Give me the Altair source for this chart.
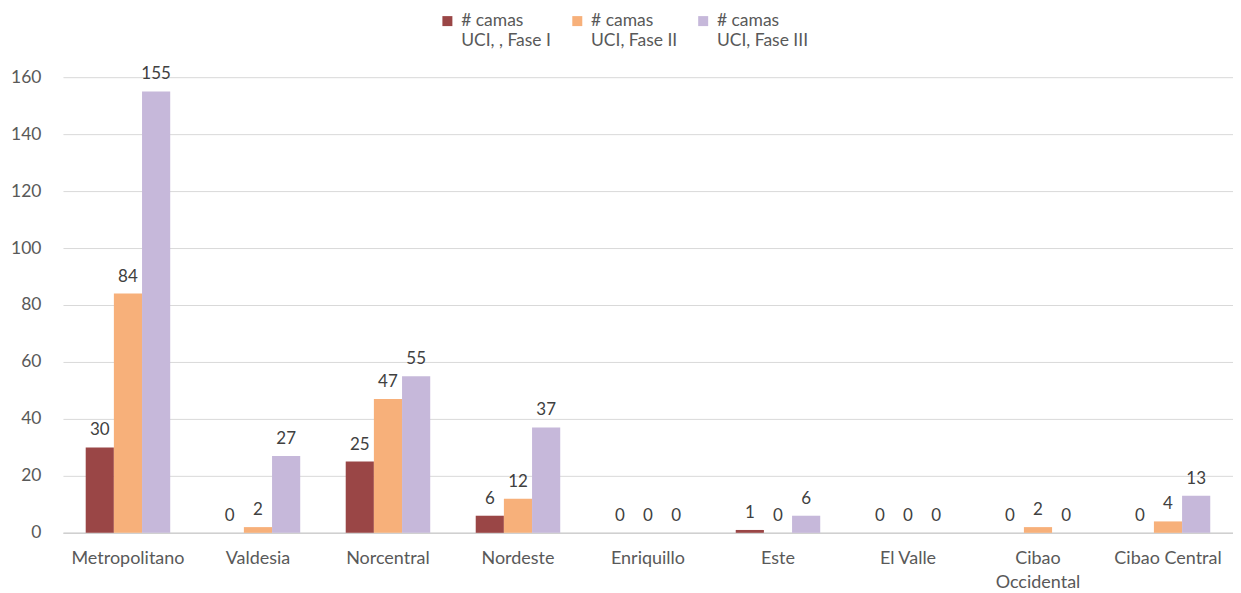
import altair as alt
import pandas as pd

regions = ["Metropolitano", "Valdesia", "Norcentral", "Nordeste", "Enriquillo",
           "Este", "El Valle", "Cibao|Occidental", "Cibao Central"]
series = ["# camas|UCI, , Fase I", "# camas|UCI, Fase II", "# camas|UCI, Fase III"]
fase1 = [30, 0, 25, 6, 0, 1, 0, 0, 0]
fase2 = [84, 2, 47, 12, 0, 0, 0, 2, 4]
fase3 = [155, 27, 55, 37, 0, 6, 0, 0, 13]
colors = ["#9a4646", "#f7b07a", "#c6b8da"]

rows = []
for i, r in enumerate(regions):
    for s, vals in zip(series, [fase1, fase2, fase3]):
        rows.append({"region": r, "serie": s, "valor": vals[i]})
df = pd.DataFrame(rows)

FONT = "Lato"

x = alt.X("region:N", sort=regions, title=None,
          scale=alt.Scale(paddingInner=0.35, paddingOuter=0.175),
          axis=alt.Axis(labelExpr="split(datum.label, '|')", labelAngle=0,
                        labelFontSize=18, labelColor="#595959", labelFont=FONT,
                        labelPadding=17, ticks=False, domainColor="#d0d0d0",
                        domainWidth=1.5, labelLineHeight=24))
xo = alt.XOffset("serie:N", sort=series, scale=alt.Scale(paddingInner=0, paddingOuter=0))

bars = alt.Chart(df).mark_bar().encode(
    x=x,
    xOffset=xo,
    y=alt.Y("valor:Q", title=None,
            scale=alt.Scale(domain=[0, 160]),
            axis=alt.Axis(values=list(range(0, 161, 20)), domain=False, ticks=False,
                          labelFontSize=17.5, labelColor="#595959", labelFont=FONT,
                          labelPadding=22, gridColor="#d9d9d9", gridWidth=1)),
    color=alt.Color("serie:N", sort=series,
                    scale=alt.Scale(domain=series, range=colors),
                    legend=alt.Legend(title=None, orient="none", direction="horizontal",
                                      legendX=376, legendY=-60,
                                      labelExpr="split(datum.label, '|')",
                                      labelFontSize=17.5, labelColor="#595959",
                                      labelFont=FONT,
                                      symbolType="M-1,-2H1V0H-1Z",
                                      symbolSize=100, symbolStrokeWidth=0,
                                      labelOffset=5, columnPadding=17,
                                      labelBaseline="alphabetic")),
)

labels = alt.Chart(df).mark_text(dy=-17, fontSize=17, color="#404040", font=FONT).encode(
    x=alt.X("region:N", sort=regions),
    xOffset=xo,
    y="valor:Q",
    text="valor:Q",
)

chart = (bars + labels).properties(
    width=1171, height=456,
    padding={"left": 55, "top": 69, "right": 0, "bottom": 60},
    autosize=alt.AutoSizeParams(type="none"),
).configure_view(stroke=None)

chart.save("out.html", embed_options={"renderer": "svg", "actions": False})
